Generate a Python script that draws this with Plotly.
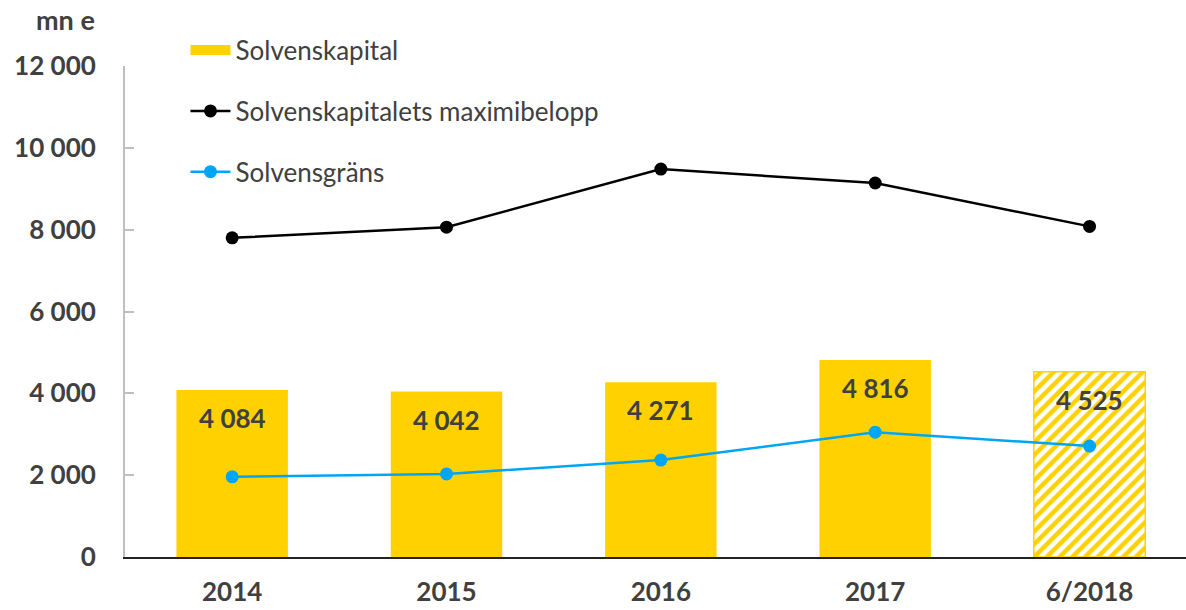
import plotly.graph_objects as go

categories = ["2014", "2015", "2016", "2017", "6/2018"]
solvenskapital = [4084, 4042, 4271, 4816, 4525]
maximibelopp = [7800, 8060, 9480, 9140, 8080]
solvensgrans = [1960, 2030, 2370, 3050, 2710]
y_ticks = [0, 2000, 4000, 6000, 8000, 10000, 12000]
y_tick_labels = ["0", "2 000", "4 000", "6 000", "8 000", "10 000", "12 000"]

YELLOW = "#FFD100"
BLUE = "#00A6F5"
TXT = "#404040"
FONT = "Lato"

x = list(range(len(categories)))

fig = go.Figure()
fig.add_trace(go.Bar(
    x=x, y=solvenskapital, name="Solvenskapital",
    width=0.52, showlegend=False,
    marker=dict(
        color=[YELLOW] * 5,
        line=dict(color=YELLOW, width=[0, 0, 0, 0, 1.5]),
        pattern=dict(shape=["", "", "", "", "/"], fgcolor=[YELLOW] * 5,
                     bgcolor=["white"] * 5, size=9, solidity=0.5,
                     fillmode="replace"),
    ),
))
# legend entry for the bars (wide yellow swatch)
fig.add_trace(go.Scatter(
    x=[None], y=[None], name="Solvenskapital", mode="lines",
    line=dict(color=YELLOW, width=15), legendgroup="a",
))
fig.add_trace(go.Scatter(
    x=x, y=maximibelopp, name="Solvenskapitalets maximibelopp",
    mode="lines+markers", line=dict(color="black", width=2.5),
    marker=dict(size=13, color="black"), legendgroup="b",
))
fig.add_trace(go.Scatter(
    x=x, y=solvensgrans, name="Solvensgräns",
    mode="lines+markers", line=dict(color=BLUE, width=2.5),
    marker=dict(size=13, color=BLUE), legendgroup="c",
))

annotations = []
for i, v in enumerate(solvenskapital):
    annotations.append(dict(
        x=i, y=v, xref="x", yref="y", text=f"{v:,}".replace(",", " "),
        showarrow=False, yshift=-28, yanchor="middle",
        font=dict(family=FONT, size=26, color=TXT, weight="bold"),
    ))
annotations.append(dict(
    x=-0.0264, y=1.0937, xref="paper", yref="paper", xanchor="right", yanchor="middle",
    text="mn e", showarrow=False,
    font=dict(family=FONT, size=27, color=TXT, weight="bold"),
))

fig.update_layout(
    width=1186, height=610,
    margin=dict(l=125, r=0, t=66, b=53),
    plot_bgcolor="white", paper_bgcolor="white",
    font=dict(family=FONT, color=TXT),
    showlegend=True,
    legend=dict(
        x=0.057, y=1.08, xanchor="left", yanchor="top",
        font=dict(family=FONT, size=26, color=TXT),
        tracegroupgap=24, bgcolor="rgba(0,0,0,0)",
        itemwidth=40,
    ),
    annotations=annotations,
    xaxis=dict(
        tickmode="array", tickvals=x, ticktext=categories,
        range=[-0.5, 4.45], showgrid=False, zeroline=False,
        showline=True, linecolor="#222222", linewidth=2,
        ticks="", ticklabelstandoff=11, automargin=False,
        tickfont=dict(family=FONT, size=26, color=TXT, weight="bold"),
    ),
    yaxis=dict(
        range=[0, 12000], tickmode="array", tickvals=y_ticks, ticktext=y_tick_labels,
        showgrid=False, zeroline=False, automargin=False,
        showline=True, linecolor="#BFBFBF", linewidth=2,
        ticks="inside", ticklen=9, tickcolor="#BFBFBF", tickwidth=2,
        ticklabelstandoff=22,
        tickfont=dict(family=FONT, size=26, color=TXT, weight="bold"),
    ),
)

fig.write_html("out.html")
